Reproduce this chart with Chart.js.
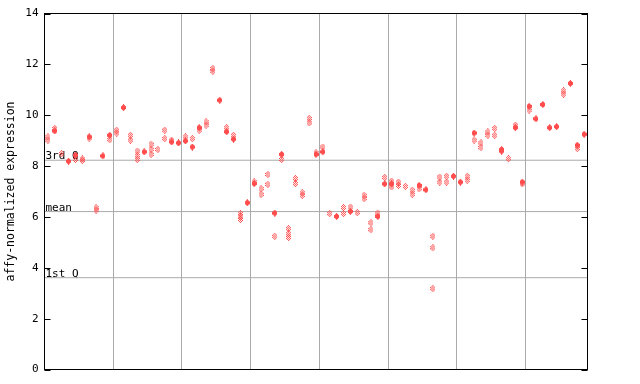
<!DOCTYPE html>
<html><head><meta charset="utf-8">
<script src="https://cdn.jsdelivr.net/npm/chart.js@4/dist/chart.umd.min.js"></script>
<style>html,body{margin:0;padding:0;background:#fff;}#wrap{width:640px;height:384px;}</style>
</head><body><div id="wrap"><canvas id="c" width="640" height="384"></canvas></div>
<script>
// ---- data (one entry per sample, 79 samples) ----
const sampleCount = 79;
// dithered (lighter) markers
const lightValues = [
  [9.15,9.02],[9.48],[8.49],[],[8.26],[8.28,8.22],[9.10],[6.36,6.27],[],[9.04],
  [9.41,9.30],[],[9.21,9.02],[8.59,8.41,8.26],[],[8.86,8.66,8.46],[8.65],[9.41,9.08],[9.02],[],
  [9.15],[9.08],[9.41],[9.74,9.61],[11.84,11.73],[],[9.51],[9.21],[6.13,6.00,5.90],[],
  [7.38],[7.11,6.89],[7.67,7.28],[5.24],[8.26],[5.54,5.34,5.19],[7.51,7.31],[6.95,6.85],[9.87,9.70],[8.52],
  [8.75],[6.13],[],[6.37,6.13],[6.39],[6.17],[6.85,6.72],[5.77,5.50],[6.15],[7.55],
  [7.41,7.18],[7.37,7.24],[7.20],[7.05,6.89],[7.11],[],[5.24,4.79,3.18],[7.57,7.37],[7.60,7.37],[],
  [],[7.60,7.44],[9.02],[8.91,8.73],[9.34,9.21],[9.48,9.21],[],[8.29],[9.61],[7.30],
  [10.20],[],[],[],[],[10.96,10.83],[],[8.69],[]
];
// solid markers
const solidValues = [
  [],[9.38],[],[8.19],[8.43],[],[9.15],[],[8.40],[9.21],
  [],[10.30],[],[],[8.56],[],[],[],[8.95],[8.91],
  [8.99],[8.75],[9.51],[],[],[10.59],[9.35],[9.06],[],[6.56],
  [7.31],[],[],[6.15],[8.46],[],[],[],[],[8.46],
  [8.56],[],[6.02],[],[6.22],[],[],[],[6.02],[7.30],
  [7.30],[],[],[],[7.24],[7.07],[],[],[],[7.60],
  [7.37],[],[9.30],[],[],[],[8.65,8.59],[],[9.51],[7.37],
  [10.35],[9.86],[10.42],[9.51],[9.55],[],[11.25],[8.82],[9.25]
];
const yTicks = [0,2,4,6,8,10,12,14];
const groupBoundaries = [9.5,19.5,29.5,39.5,49.5,59.5,69.5];
const refLabels = ['3rd Q','mean','1st Q'];
const refValues = [8.23, 6.21, 3.61];
const yTitle = 'affy-normalized expression';

// ---- styling helpers ----
const RED = '#ff4d4d';
function makeDiamond(checker){
  const c = document.createElement('canvas'); c.width = 5; c.height = 7;
  const g = c.getContext('2d'); g.fillStyle = RED;
  const half = [0,1,2,2,2,1,0];
  for (let r=0;r<7;r++) for (let x=2-half[r]; x<=2+half[r]; x++)
    if (!checker || (x+r)%2===0) g.fillRect(x,r,1,1);
  return c;
}
const solidImg = makeDiamond(false), lightImg = makeDiamond(true);

function toPoints(arr){ const out=[]; arr.forEach((vals,i)=>vals.forEach(v=>out.push({x:i,y:v}))); return out; }

const refDatasets = refValues.map(v=>({
  type:'line', data:[{x:-0.5,y:v},{x:sampleCount-0.5,y:v}], borderColor:'#aaaaaa', borderWidth:1,
  pointRadius:0, fill:false, order:5
}));

const MONO = '"DejaVu Sans Mono", "Liberation Mono", monospace';

const decor = {
  id:'decor',
  beforeDatasetsDraw(chart){
    const ctx = chart.ctx, y = chart.scales.y, a = chart.chartArea;
    ctx.save(); ctx.fillStyle='#000'; ctx.font = '11px ' + MONO; ctx.textBaseline='alphabetic'; ctx.textAlign='left';
    refValues.forEach((v,i)=>{ ctx.fillText(refLabels[i], a.left+1, Math.round(y.getPixelForValue(v))-1); });
    ctx.restore();
  },
  afterDraw(chart){
    const ctx = chart.ctx, y = chart.scales.y, a = chart.chartArea;
    ctx.save(); ctx.strokeStyle='#000'; ctx.lineWidth=1;
    ctx.beginPath();
    yTicks.forEach(v=>{
      const p = Math.round(y.getPixelForValue(v))+0.5;
      ctx.moveTo(a.left, p); ctx.lineTo(a.left+6, p);
      ctx.moveTo(a.right-6, p); ctx.lineTo(a.right, p);
    });
    ctx.stroke();
    ctx.strokeRect(a.left, a.top, a.right-a.left, a.bottom-a.top);
    ctx.restore();
  }
};

new Chart(document.getElementById('c'), {
  type:'scatter',
  data:{ datasets:[
    { data: toPoints(lightValues), pointStyle: lightImg, order:2 },
    { data: toPoints(solidValues), pointStyle: solidImg, order:1 },
    ...refDatasets
  ]},
  options:{
    responsive:false, animation:false, devicePixelRatio:1,
    layout:{ padding:{ top:13.5, right:52.5, bottom:14.5, left:0 } },
    plugins:{ legend:{display:false}, tooltip:{enabled:false} },
    scales:{
      x:{ type:'linear', min:-0.5, max:sampleCount-0.5,
          ticks:{display:false}, border:{display:false},
          grid:{ color:'#aaaaaa', lineWidth:1, drawTicks:false },
          afterBuildTicks(s){ s.ticks = groupBoundaries.map(v=>({value:v})); },
          afterFit(s){ s.height = 0; } },
      y:{ type:'linear', min:0, max:14,
          afterBuildTicks(s){ s.ticks = yTicks.map(v=>({value:v})); },
          ticks:{ color:'#000', padding:6, font:{family:MONO, size:11} },
          grid:{ display:false, drawTicks:false }, border:{display:false},
          title:{ display:true, text:yTitle, color:'#000', padding:{top:4,bottom:0}, font:{family:MONO, size:11.5} },
          afterFit(s){ s.width = 44.5; } }
    }
  },
  plugins:[decor]
});
</script></body></html>
